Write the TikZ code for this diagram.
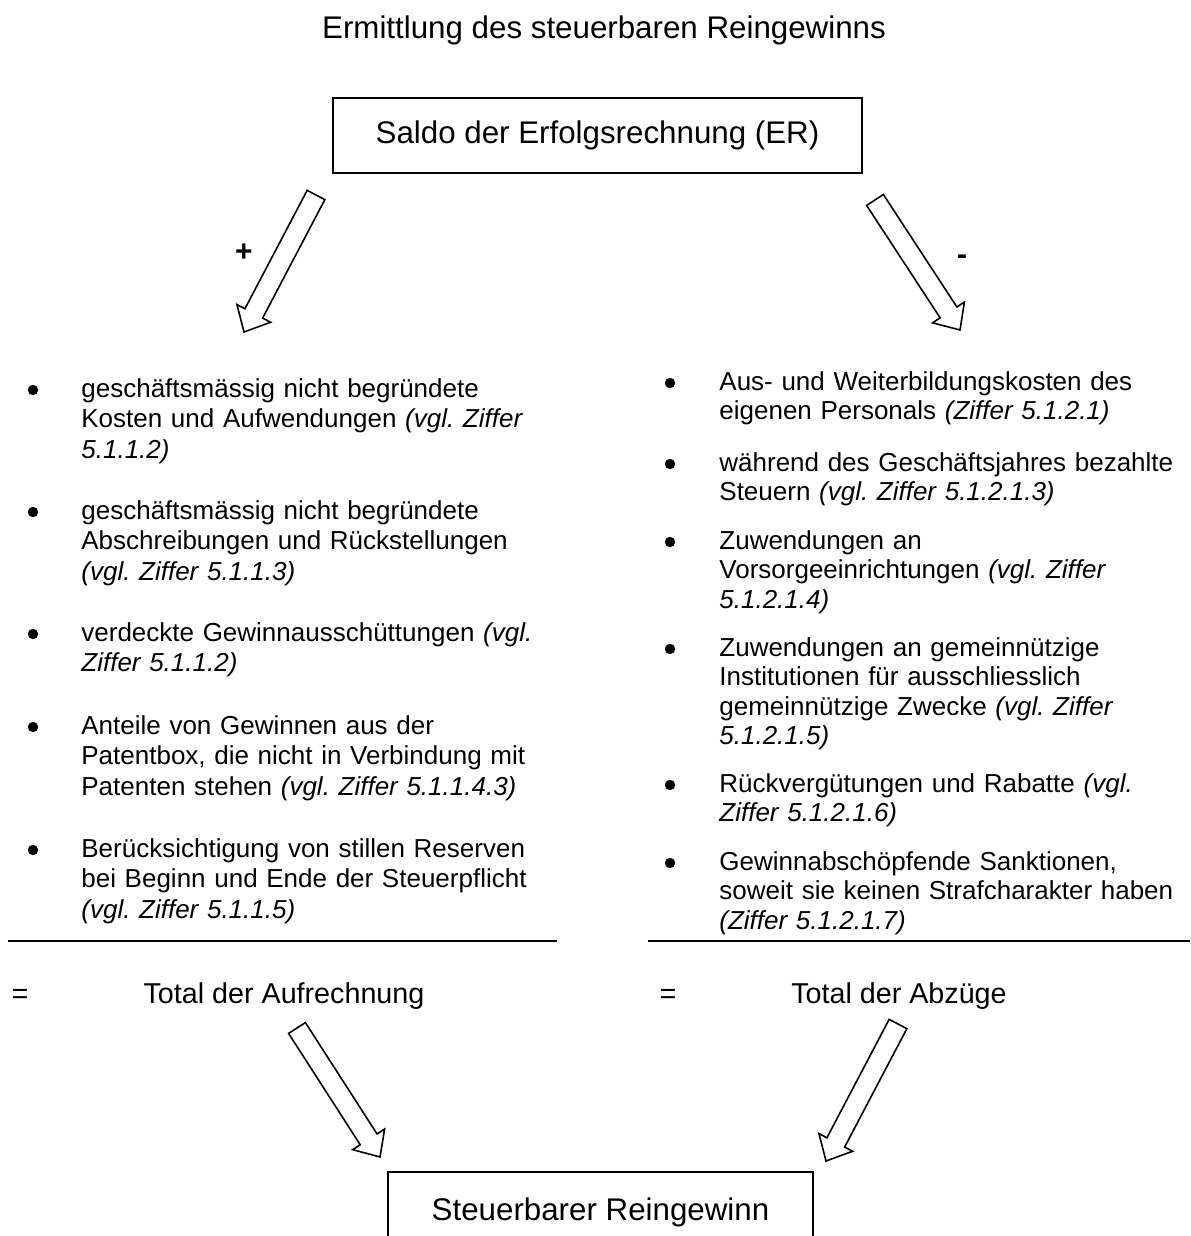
\documentclass[tikz,border=0pt]{standalone}
\usepackage{fontspec}
\setmainfont{Liberation Sans}
\usetikzlibrary{calc}
\frenchspacing

\tikzset{
  kasten/.style={draw, line width=1pt, inner sep=0pt, font=\fontsize{15.65}{18}\selectfont},
  gross/.style={inner sep=0pt, anchor=base, font=\fontsize{15.65}{18}\selectfont},
  summe/.style={inner sep=0pt, anchor=base, font=\fontsize{14.35}{17}\selectfont},
  punktl/.style={text width=250pt, align=left, inner sep=0pt, anchor=base west, font=\fontsize{13}{15.3}\selectfont},
  punktr/.style={punktl, text width=235pt, font=\fontsize{13}{14.8}\selectfont},
  kugel/.style={circle, fill, inner sep=0pt, minimum size=5.2pt},
  pfeil/.style={draw, line width=0.8pt, line join=miter},
  zeichen/.style={inner sep=0pt, anchor=base, font=\fontsize{15}{17}\selectfont\bfseries},
}

% hohler Blockpfeil von #1 nach #2
\newcommand{\hohlpfeil}[2]{%
  \coordinate (#1k) at ($(#2)!10.5pt!(#1)$);
  \draw[pfeil] ($(#1)!5pt!90:(#2)$) -- ($(#1k)!5pt!90:(#2)$) -- ($(#1k)!9.5pt!90:(#2)$) -- (#2)
    -- ($(#1k)!9.5pt!-90:(#2)$) -- ($(#1k)!5pt!-90:(#2)$) -- ($(#1)!5pt!-90:(#2)$) -- cycle;
}

\begin{document}
\begin{tikzpicture}[x=0.5pt, y=-0.5pt]
    \useasboundingbox (0,0) rectangle (1190,1236);

    \node[gross] (titel) at (604,39) {Ermittlung des steuerbaren Reingewinns};
    \node[kasten, minimum width=264.5pt, minimum height=37.5pt] (saldo) at (597.5,135.5) {Saldo der Erfolgsrechnung (ER)};

    \coordinate (p1s) at (316,195); \coordinate (p1e) at (244,332);
    \coordinate (p2s) at (875,200); \coordinate (p2e) at (960,330);
    \hohlpfeil{p1s}{p1e}
    \hohlpfeil{p2s}{p2e}
    \node[zeichen] (plus) at (244,261) {+};
    \node[zeichen] (minus) at (962,264) {-};

    % Aufrechnungen
    \node[kugel] (lb1) at (33,390) {};
    \node[punktl] (l1) at (81,397) {geschäftsmässig nicht begründete\\ Kosten und Aufwendungen \textit{(vgl. Ziffer\\ 5.1.1.2)}};
    \node[kugel] (lb2) at (33,512) {};
    \node[punktl] (l2) at (81,519) {geschäftsmässig nicht begründete\\ Abschreibungen und Rückstellungen\\ \textit{(vgl. Ziffer 5.1.1.3)}};
    \node[kugel] (lb3) at (33,634) {};
    \node[punktl] (l3) at (81,641) {verdeckte Gewinnausschüttungen \textit{(vgl.\\ Ziffer 5.1.1.2)}};
    \node[kugel] (lb4) at (33,727) {};
    \node[punktl] (l4) at (81,734) {Anteile von Gewinnen aus der\\ Patentbox, die nicht in Verbindung mit\\ Patenten stehen \textit{(vgl. Ziffer 5.1.1.4.3)}};
    \node[kugel] (lb5) at (33,850) {};
    \node[punktl] (l5) at (81,857) {Berücksichtigung von stillen Reserven\\ bei Beginn und Ende der Steuerpflicht\\ \textit{(vgl. Ziffer 5.1.1.5)}};

    % Abzuege
    \node[kugel] (rb1) at (670,383) {};
    \node[punktr] (r1) at (719,390) {Aus- und Weiterbildungskosten des\\ eigenen Personals \textit{(Ziffer 5.1.2.1)}};
    \node[kugel] (rb2) at (670,464) {};
    \node[punktr] (r2) at (719,471) {während des Geschäftsjahres bezahlte\\ Steuern \textit{(vgl. Ziffer 5.1.2.1.3)}};
    \node[kugel] (rb3) at (670,542) {};
    \node[punktr] (r3) at (719,549) {Zuwendungen an\\ Vorsorgeeinrichtungen \textit{(vgl. Ziffer\\ 5.1.2.1.4)}};
    \node[kugel] (rb4) at (670,649) {};
    \node[punktr] (r4) at (719,656) {Zuwendungen an gemeinnützige\\ Institutionen für ausschliesslich\\ gemeinnützige Zwecke \textit{(vgl. Ziffer\\ 5.1.2.1.5)}};
    \node[kugel] (rb5) at (670,785) {};
    \node[punktr] (r5) at (719,792) {Rückvergütungen und Rabatte \textit{(vgl.\\ Ziffer 5.1.2.1.6)}};
    \node[kugel] (rb6) at (670,863) {};
    \node[punktr] (r6) at (719,870) {Gewinnabschöpfende Sanktionen,\\ soweit sie keinen Strafcharakter haben\\ \textit{(Ziffer 5.1.2.1.7)}};

    \draw[line width=1pt] (8,941) -- (557,941);
    \draw[line width=1pt] (648,941) -- (1190,941);

    \node[summe] (gl1) at (20,1003) {=};
    \node[summe] (total1) at (284,1003) {Total der Aufrechnung};
    \node[summe] (gl2) at (668,1003) {=};
    \node[summe] (total2) at (899,1003) {Total der Abzüge};

    \coordinate (p3s) at (297,1028); \coordinate (p3e) at (380,1157);
    \coordinate (p4s) at (898,1024); \coordinate (p4e) at (826,1161);
    \hohlpfeil{p3s}{p3e}
    \hohlpfeil{p4s}{p4e}

    \node[kasten, minimum width=212.5pt, minimum height=40pt] (reingewinn) at (600.5,1212) {Steuerbarer Reingewinn};
\end{tikzpicture}
\end{document}
